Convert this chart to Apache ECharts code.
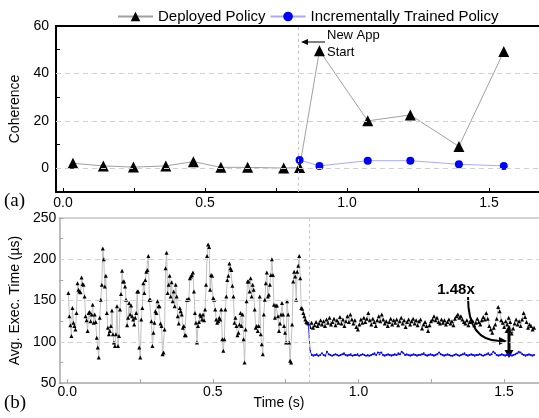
<!DOCTYPE html>
<html><head><meta charset="utf-8">
<script src="https://cdn.jsdelivr.net/npm/echarts@6/dist/echarts.min.js"></script>
<style>html,body{margin:0;padding:0;background:#fff}#c{width:539px;height:418px}</style>
</head><body><div id="c"></div>
<script>
// ---------- Data ----------
const NEW_APP_TIME = 0.828;
// Panel (a): coherence
const deployedCohTime = [0.035, 0.142, 0.248, 0.362, 0.459, 0.556, 0.65, 0.777, 0.833, 0.903, 1.073, 1.223, 1.394, 1.552];
const deployedCoh     = [2.1, 1.0, 0.5, 1.0, 2.8, 0.4, 0.4, 0.1, 0.3, 49.6, 20.0, 22.5, 9.2, 49.2];
const incCohTime = [0.833, 0.903, 1.073, 1.223, 1.394, 1.552];
const incCoh     = [3.5, 1.0, 3.2, 3.2, 1.7, 1.0];

// Panel (b): average execution time (us)
const deployedExecBefore = [159,131,120,107,141,123,119,115,135,171,163,161,160,178,170,169,155,131,126,113,135,136,125,133,145,123,133,124,105,93,81,129,151,169,213,200,167,180,135,117,109,113,119,138,109,99,95,109,143,95,107,139,158,186,173,173,167,151,120,129,147,133,144,131,127,121,129,135,161,161,93,81,127,141,171,159,175,185,187,204,151,151,125,95,111,123,137,135,149,143,143,122,119,85,87,115,189,208,159,169,180,155,172,149,161,143,169,155,131,122,141,137,133,117,119,108,108,151,151,152,177,179,181,184,161,135,123,99,119,124,133,131,127,133,126,139,169,204,218,215,163,181,180,153,151,139,127,123,125,129,127,139,103,89,103,139,155,175,180,195,189,187,168,155,123,129,119,108,111,121,135,119,133,103,75,115,149,173,173,161,177,155,
169,163,139,117,119,113,119,155,109,97,85,133,151,171,184,155,157,169,181,200,181,145,129,144,144,131,113,122,133,147,133,119,111,99,149,133,99,77,75,121,173,185,179,151,185,192,204,177,141,140,135,131,127,124,123,122];
const deployedExecAfter = [118,123,117,120,124,119,122,126,121,
125,119,127,123,129,121,124,128,120,126,
123,130,122,127,119,125,131,124,133,127,
122,126,118,115,121,127,123,129,124,128,
135,126,121,128,124,119,126,131,125,133,
127,122,125,119,124,128,121,126,123,127,
120,125,129,122,126,118,124,127,121,125,
128,122,126,120,125,127,116,121,124,119,
113,120,125,127,131,126,129,124,122,127,
123,126,121,124,127,122,125,120,128,131,
133,129,131,127,124,122,126,120,124,127,
125,120,123,128,124,121,126,130,127,135,
128,119,115,111,117,121,128,142,137,126,
123,118,125,121,129,124,110,116,122,127,
121,125,119,127,135,130,124,117,121,119,115,117];
const incExec = [121,89,84,83,84,85,83,84,86,84,83,88,85,84,83,84,85,84,83,84,85,86,84,83,84,85,83,84,84,85,83,84,85,84,83,84,83,84,85,86,84,87,85,87,84,83,84,85,84,83,84,85,84,86,85,88,86,84,85,84,83,84,85,84,83,84,84,85,86,84,83,84,85,84,83,84,85,87,85,84,83,84,85,84,83,83,84,85,84,83,84,85,86,84,83,84,85,84,83,84,84,85,84,83,84,85,86,84,85,88,86,84,83,84,85,84,83,84,85,84,83,84,85,86,88,87,85,84,83,84,85,84,83,84];
// sampling ranges (s)
const beforeStart = 0.004, beforeEnd = 0.828;
const afterStart = 0.834, afterEnd = 1.603;
const incStart = 0.828, incEnd = 1.603;

const xTickVals = [0, 0.25, 0.5, 0.75, 1.0, 1.25, 1.5];
const xLabelVals = [0, 0.5, 1.0, 1.5];

// ---------- Build ----------
function span(vals, a, b) {
  const n = vals.length;
  return vals.map((v, i) => [a + (b - a) * i / (n - 1), v]);
}
const zip = (xs, ys) => xs.map((x, i) => [x, ys[i]]);
const deployedExecData = span(deployedExecBefore, beforeStart, beforeEnd).concat(span(deployedExecAfter, afterStart, afterEnd));
const incExecData = span(incExec, incStart, incEnd);

const FONT = 'Liberation Sans, Arial, sans-serif';
const chart = echarts.init(document.getElementById('c'), null, {renderer: 'canvas'});

const hDash = {type: [5, 4], color: '#cfcfcf', width: 1};
const vDash = {type: [3, 3], color: '#c4c4c4', width: 1};

const option = {
  animation: false,
  textStyle: {fontFamily: FONT},
  legend: {
    left: 117, top: 9, padding: 0, itemGap: 4, itemWidth: 35, itemHeight: 12,
    textStyle: {fontSize: 15, color: '#000', fontFamily: FONT},
    data: ['Deployed Policy', 'Incrementally Trained Policy']
  },
  grid: [
    {left: 56, top: 26, right: 0, bottom: 226, containLabel: false},
    {left: 57, top: 218, right: 0, bottom: 35, containLabel: false}
  ],
  xAxis: [
    {gridIndex: 0, type: 'value', min: -0.0246, max: 1.676, position: 'bottom',
     axisLine: {onZero: false, lineStyle: {color: '#000', width: 2}},
     axisTick: {inside: true, length: 4, customValues: xTickVals, lineStyle: {color: '#000', width: 1}},
     axisLabel: {customValues: xLabelVals, formatter: v => v.toFixed(1), fontSize: 14, color: '#000', margin: 4},
     splitLine: {show: false}},
    {gridIndex: 0, type: 'value', min: -0.0246, max: 1.676, position: 'top',
     axisLine: {onZero: false, lineStyle: {color: '#000', width: 2}},
     axisTick: {show: false}, axisLabel: {show: false}, splitLine: {show: false}},
    {gridIndex: 1, type: 'value', min: -0.0273, max: 1.62, position: 'bottom',
     axisLine: {onZero: false, lineStyle: {color: '#a8a8a8', width: 1.5}},
     axisTick: {inside: true, length: 4, customValues: xTickVals, lineStyle: {color: '#a8a8a8', width: 1}},
     axisLabel: {customValues: xLabelVals, formatter: v => v.toFixed(1), fontSize: 14, color: '#000', margin: 2},
     splitLine: {show: false}},
    {gridIndex: 1, type: 'value', min: -0.0273, max: 1.62, position: 'top',
     axisLine: {onZero: false, lineStyle: {color: '#d2d2d2', width: 2}},
     axisTick: {show: false}, axisLabel: {show: false}, splitLine: {show: false}}
  ],
  yAxis: [
    {gridIndex: 0, type: 'value', min: -10, max: 60, interval: 10,
     axisLine: {show: true, onZero: false, lineStyle: {color: '#000', width: 2}},
     axisTick: {show: true, inside: true, length: 4, lineStyle: {color: '#000'}},
     axisLabel: {formatter: v => (v >= 0 && v % 20 === 0) ? String(v) : '', fontSize: 14, color: '#000', margin: 7},
     splitLine: {show: false},
     name: 'Coherence', nameLocation: 'middle', nameGap: 28, nameRotate: 90,
     nameTextStyle: {fontSize: 14, color: '#000', fontFamily: FONT}},
    {gridIndex: 1, type: 'value', min: 50, max: 250, interval: 25,
     axisLine: {show: true, onZero: false, lineStyle: {color: '#a8a8a8', width: 1.5}},
     axisTick: {show: true, inside: true, length: 4, lineStyle: {color: '#a8a8a8'}},
     axisLabel: {formatter: v => (v % 50 === 0) ? String(v) : '', fontSize: 14, color: '#000', margin: 3},
     splitLine: {show: false},
     name: 'Avg. Exec. Time (µs)', nameLocation: 'middle', nameGap: 28, nameRotate: 90,
     nameTextStyle: {fontSize: 14, color: '#000', fontFamily: FONT}}
  ],
  series: [
    {name: 'Deployed Policy', type: 'line', xAxisIndex: 0, yAxisIndex: 0,
     data: zip(deployedCohTime, deployedCoh), symbol: 'triangle', symbolSize: 11,
     itemStyle: {color: '#000'}, lineStyle: {color: '#a0a0a0', width: 1}, z: 3,
     markLine: {silent: true, symbol: ['none', 'none'], label: {show: false}, animation: false,
       data: [{yAxis: 0, lineStyle: hDash}, {yAxis: 20, lineStyle: hDash}, {yAxis: 40, lineStyle: hDash},
              {xAxis: NEW_APP_TIME, lineStyle: vDash}]}},
    {name: 'Incrementally Trained Policy', type: 'line', xAxisIndex: 0, yAxisIndex: 0,
     data: zip(incCohTime, incCoh), symbol: 'circle', symbolSize: 8,
     itemStyle: {color: '#0000ff'}, lineStyle: {color: '#a8a8ff', width: 1}, z: 4},
    {name: 'Deployed Policy', type: 'line', xAxisIndex: 2, yAxisIndex: 1,
     data: deployedExecData, symbol: 'triangle', symbolSize: 4,
     itemStyle: {color: '#000'}, lineStyle: {color: '#c0c0c0', width: 1}, z: 3,
     markLine: {silent: true, symbol: ['none', 'none'], label: {show: false}, animation: false,
       data: [{yAxis: 100, lineStyle: hDash}, {yAxis: 150, lineStyle: hDash}, {yAxis: 200, lineStyle: hDash},
              {xAxis: NEW_APP_TIME, lineStyle: vDash}]}},
    {name: 'Incrementally Trained Policy', type: 'line', xAxisIndex: 2, yAxisIndex: 1,
     data: incExecData, symbol: 'circle', symbolSize: 2,
     itemStyle: {color: '#0000ff'}, lineStyle: {color: '#2a2aff', width: 1}, z: 4}
  ],
  graphic: [
    {type: 'text', left: 4, top: 192, style: {text: '(a)', font: '19px "Liberation Serif", "DejaVu Serif", serif', fill: '#000'}},
    {type: 'text', left: 4, top: 394, style: {text: '(b)', font: '19px "Liberation Serif", "DejaVu Serif", serif', fill: '#000'}},
    {type: 'text', x: 279, y: 403, style: {text: 'Time (s)', font: '14px ' + FONT, fill: '#000', align: 'center', verticalAlign: 'middle'}},
    {type: 'text', x: 327, y: 35, style: {text: 'New App', font: '13px ' + FONT, fill: '#000', verticalAlign: 'middle'}},
    {type: 'text', x: 327, y: 52, style: {text: 'Start', font: '13px ' + FONT, fill: '#000', verticalAlign: 'middle'}},
    {type: 'line', shape: {x1: 325, y1: 42, x2: 306, y2: 42}, style: {stroke: '#000', lineWidth: 1}},
    {type: 'polygon', shape: {points: [[301, 42], [308, 39], [308, 45]]}, style: {fill: '#000'}},
    {type: 'text', x: 456, y: 290, style: {text: '1.48x', font: 'bold 15px ' + FONT, fill: '#000', align: 'center', verticalAlign: 'middle'}},
    {type: 'bezierCurve', shape: {x1: 468, y1: 297, cpx1: 468, cpy1: 330, cpx2: 482, cpy2: 341, x2: 500, y2: 341},
     style: {stroke: '#000', lineWidth: 2, fill: 'none'}},
    {type: 'polygon', shape: {points: [[507, 341], [499, 337], [499, 345]]}, style: {fill: '#000'}},
    {type: 'line', shape: {x1: 509, y1: 331, x2: 509, y2: 352}, style: {stroke: '#000', lineWidth: 3}},
    {type: 'polygon', shape: {points: [[509, 325], [504.5, 333], [513.5, 333]]}, style: {fill: '#000'}},
    {type: 'polygon', shape: {points: [[509, 358], [504.5, 350], [513.5, 350]]}, style: {fill: '#000'}}
  ]
};
chart.setOption(option);
</script>
</body></html>
